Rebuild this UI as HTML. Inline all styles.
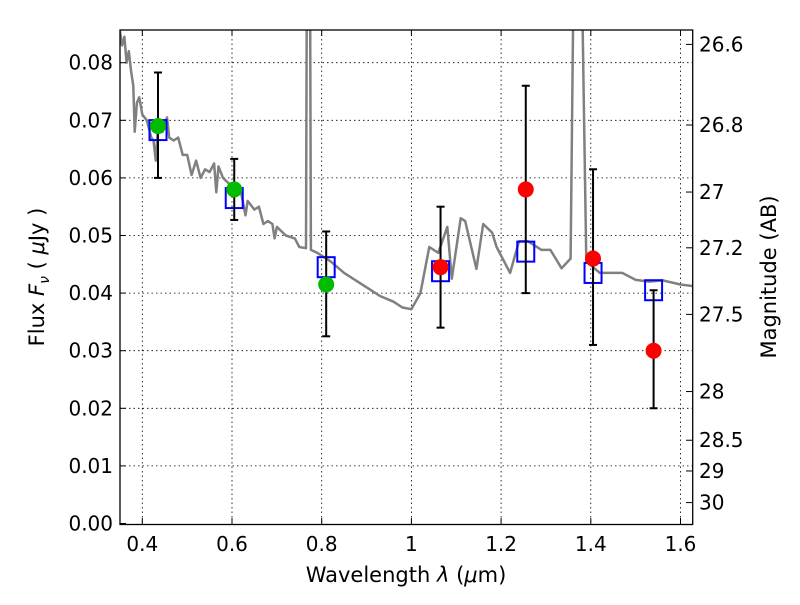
<!DOCTYPE html>
<html><head><meta charset="utf-8"><style>
body{margin:0;background:#fff;}
svg text{font-family:"DejaVu Sans","Liberation Sans",sans-serif;fill:#000;}
</style></head><body>
<svg id="chart" width="800" height="600" viewBox="0 0 800 600">
<defs><clipPath id="clip"><rect x="120" y="30" width="572.7" height="494.5"/></clipPath></defs>
<rect x="0" y="0" width="800" height="600" fill="#fff"/>
<g id="grid"></g>
<g id="spec" clip-path="url(#clip)"></g>
<g id="marks" clip-path="url(#clip)"></g>
<rect x="120" y="30" width="572.7" height="494.5" fill="none" stroke="#000" stroke-width="1.3"/>
<g id="axes"></g>
<text x="406" y="582" font-size="21" text-anchor="middle">Wavelength  <tspan font-style="italic">λ</tspan> (<tspan font-style="italic">μ</tspan>m)</text>
<text transform="translate(44,277) rotate(-90)" font-size="21" text-anchor="middle">Flux  <tspan font-style="italic">F</tspan><tspan font-style="italic" font-size="14" dy="5">ν</tspan><tspan dy="-5">  ( </tspan><tspan font-style="italic">μ</tspan>Jy )</text>
<text transform="translate(776,277) rotate(-90)" font-size="21" text-anchor="middle">Magnitude (AB)</text>
</svg>
<script>
const specLam=[0.35,0.355,0.36,0.365,0.37,0.375,0.38,0.383,0.388,0.393,0.40,0.41,0.42,0.425,0.43,0.435,0.445,0.455,0.46,0.47,0.48,0.49,0.50,0.51,0.52,0.53,0.54,0.55,0.56,0.565,0.57,0.58,0.60,0.61,0.62,0.63,0.635,0.65,0.66,0.67,0.68,0.69,0.695,0.70,0.72,0.74,0.75,0.765,0.768,0.773,0.776,0.79,0.82,0.85,0.88,0.91,0.93,0.96,0.98,1.0,1.02,1.04,1.06,1.08,1.09,1.11,1.12,1.145,1.16,1.18,1.19,1.22,1.24,1.26,1.29,1.31,1.335,1.355,1.365,1.375,1.39,1.42,1.45,1.47,1.5,1.53,1.56,1.6,1.63];
const specFlux=[0.0855,0.083,0.0845,0.08,0.082,0.0785,0.076,0.068,0.073,0.074,0.071,0.07,0.067,0.0665,0.063,0.069,0.068,0.0705,0.067,0.0665,0.067,0.064,0.064,0.0605,0.063,0.060,0.0615,0.061,0.0625,0.0575,0.062,0.060,0.0585,0.057,0.0575,0.0535,0.056,0.0545,0.055,0.052,0.0525,0.052,0.0495,0.0515,0.050,0.0495,0.048,0.0478,0.12,0.12,0.0475,0.047,0.0455,0.0435,0.042,0.0405,0.0395,0.0385,0.0375,0.0372,0.040,0.048,0.047,0.0515,0.0425,0.053,0.0525,0.0442,0.052,0.0505,0.048,0.0435,0.049,0.049,0.0475,0.0475,0.0443,0.046,0.12,0.12,0.0455,0.0435,0.0435,0.0435,0.0423,0.042,0.0422,0.0415,0.0412];
const bandLam=[0.435,0.605,0.81,1.065,1.255,1.405,1.54];
const modelFlux=[0.0683,0.0565,0.0445,0.0438,0.0472,0.0435,0.0405];
const obsFlux=[0.069,0.058,0.0415,0.0445,0.058,0.046,0.030];
const obsColor=['#00bb00','#00bb00','#00bb00','#ff0000','#ff0000','#ff0000','#ff0000'];
const errLo=[0.060,0.0527,0.0325,0.034,0.040,0.031,0.020];
const errHi=[0.0783,0.0633,0.0507,0.055,0.076,0.0615,0.0405];
const xTicks=[0.4,0.6,0.8,1.0,1.2,1.4,1.6];
const xTickLabels=['0.4','0.6','0.8','1','1.2','1.4','1.6'];
const yTicks=[0,0.01,0.02,0.03,0.04,0.05,0.06,0.07,0.08];
const yTickLabels=['0.00','0.01','0.02','0.03','0.04','0.05','0.06','0.07','0.08'];
const magTicks=[26.6,26.8,27,27.2,27.5,28,28.5,29,30];
const magTickLabels=['26.6','26.8','27','27.2','27.5','28','28.5','29','30'];

const NS='http://www.w3.org/2000/svg';
const X=v=>142.3+(v-0.4)*448.5;
const Y=v=>523.5-v*5760;
function mk(tag,attrs,parent){const e=document.createElementNS(NS,tag);for(const k in attrs)e.setAttribute(k,attrs[k]);document.getElementById(parent).appendChild(e);return e;}

xTicks.forEach((t,i)=>{
  const g=mk('line',{x1:X(t),x2:X(t),y1:30,y2:524.5,stroke:'#000','stroke-width':0.8,'stroke-dasharray':'1.5,3'},'grid');
  
  
  mk('line',{x1:X(t),x2:X(t),y1:524.5,y2:518,stroke:'#000'},'axes');
  mk('line',{x1:X(t),x2:X(t),y1:30,y2:36,stroke:'#000'},'axes');
  const l=mk('text',{x:X(t),y:551,'font-size':20,'text-anchor':'middle'},'axes');
  l.textContent=xTickLabels[i];
  
  
});
yTicks.forEach((t,i)=>{
  if(t>0){const g=mk('line',{x1:120,x2:692.7,y1:Y(t),y2:Y(t),stroke:'#000','stroke-width':0.8,'stroke-dasharray':'1.5,3'},'grid');
  
  }
  mk('line',{x1:120,x2:126,y1:Y(t),y2:Y(t),stroke:'#000'},'axes');
  const l=mk('text',{x:113,y:Y(t)+7,'font-size':20,'text-anchor':'end'},'axes');
  l.textContent=yTickLabels[i];
  
  
});
magTicks.forEach((m,i)=>{
  const f=Math.pow(10,(23.9-m)/2.5);
  mk('line',{x1:692.7,x2:686,y1:Y(f),y2:Y(f),stroke:'#000'},'axes');
  const l=mk('text',{x:699,y:Y(f)+7,'font-size':20},'axes');
  l.textContent=magTickLabels[i];
  
  
});
const pts=specLam.map((l,i)=>X(l).toFixed(1)+','+Y(specFlux[i]).toFixed(1)).join(' ');
const sp=mk('polyline',{points:pts,fill:'none',stroke:'#808080','stroke-width':2.5,'stroke-linejoin':'round'},'spec');


bandLam.forEach((l,i)=>{
  const x=X(l);
  const s=mk('rect',{x:x-8.5,y:Y(modelFlux[i])-10,width:17,height:20,fill:'none',stroke:'#0000ff','stroke-width':2},'marks');
  
  
  const e=mk('line',{x1:x,x2:x,y1:Y(errLo[i]),y2:Y(errHi[i]),stroke:'#000','stroke-width':2},'marks');
  
  
  mk('line',{x1:x-4,x2:x+4,y1:Y(errLo[i]),y2:Y(errLo[i]),stroke:'#000','stroke-width':2},'marks');
  mk('line',{x1:x-4,x2:x+4,y1:Y(errHi[i]),y2:Y(errHi[i]),stroke:'#000','stroke-width':2},'marks');
  const c=mk('circle',{cx:x,cy:Y(obsFlux[i]),r:8,fill:obsColor[i]},'marks');
  
  
});
</script>
</body></html>
